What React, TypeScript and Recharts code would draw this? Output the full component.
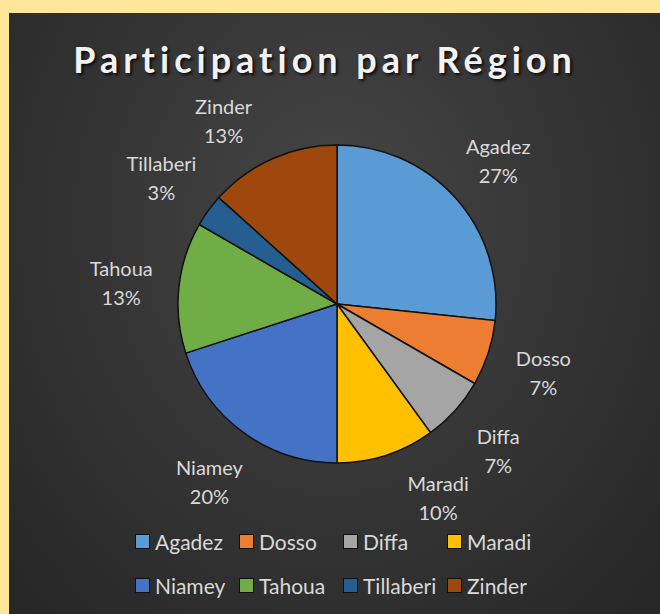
import React from "react";
import { PieChart, Pie, Cell, Legend } from "recharts";

const regions = ["Agadez", "Dosso", "Diffa", "Maradi", "Niamey", "Tahoua", "Tillaberi", "Zinder"];
const participants = [16, 4, 4, 6, 12, 8, 2, 8];
const colors = ["#5B9BD5", "#ED7D31", "#A5A5A5", "#FFC000", "#4472C4", "#70AD47", "#255E91", "#9E480E"];
const title = "Participation par Région";

const data = regions.map((name, i) => ({ name, value: participants[i] }));

const FONT = "Lato, 'Open Sans', sans-serif";
const RAD = Math.PI / 180;

const LABEL_R = 217;
const MAX_DOWN = 192;
const MAX_UP = 185;

const renderLabel = (props: any) => {
  const { cx, cy, midAngle, percent, name } = props;
  let dx = LABEL_R * Math.cos(-midAngle * RAD);
  let dy = LABEL_R * Math.sin(-midAngle * RAD);
  // keep labels clear of the legend below and the title above, staying on the label circle
  if (dy > MAX_DOWN || dy < -MAX_UP) {
    const lim = dy > 0 ? MAX_DOWN : -MAX_UP;
    dy = lim;
    dx = Math.sign(dx) * Math.sqrt(LABEL_R * LABEL_R - lim * lim);
  }
  const x = cx + dx;
  const y = cy + dy;
  return (
    <text x={x} y={y} textAnchor="middle" fill="#D9D9D9" fontFamily={FONT} fontSize={20}>
      <tspan x={x} dy={-5}>{name}</tspan>
      <tspan x={x} dy={29}>{`${Math.round(percent * 100)}%`}</tspan>
    </text>
  );
};

const renderLegend = () => (
  <div style={{ display: "grid", gridTemplateColumns: "104px 104px 104px 104px", rowGap: 20 }}>
    {regions.map((name, i) => (
      <div key={name} style={{ display: "flex", alignItems: "center", height: 24, whiteSpace: "nowrap" }}>
        <span
          style={{
            display: "inline-block",
            width: 13,
            height: 13,
            background: colors[i],
            border: "1.5px solid #111",
            marginRight: 5,
            flexShrink: 0,
          }}
        />
        <span style={{ color: "#D9D9D9", fontFamily: FONT, fontSize: 21 }}>{name}</span>
      </div>
    ))}
  </div>
);

export default function App() {
  return (
    <div style={{ position: "absolute", left: 0, top: 0, width: 660, height: 614, background: "#FFE699" }}>
      <div
        style={{
          position: "absolute",
          left: 9,
          top: 13,
          width: 651,
          height: 601,
          background: "radial-gradient(ellipse at 50% 35%, #474747 0%, #333333 55%, #262626 100%)",
          overflow: "hidden",
        }}
      >
        <div
          style={{
            position: "absolute",
            left: 0,
            top: 24,
            width: 632,
            textAlign: "center",
            color: "#F2F2F2",
            fontFamily: FONT,
            fontWeight: 700,
            fontSize: 36,
            letterSpacing: 5,
            textShadow: "2px 2px 3px rgba(0,0,0,0.8)",
          }}
        >
          {title}
        </div>
        <PieChart width={651} height={601} style={{ position: "absolute", left: 0, top: 0 }}>
          <Pie
            data={data}
            dataKey="value"
            nameKey="name"
            cx={323}
            cy={286}
            outerRadius={159}
            startAngle={90}
            endAngle={-270}
            stroke="#111"
            strokeWidth={1.5}
            label={renderLabel}
            labelLine={false}
            isAnimationActive={false}
          >
            {data.map((d, i) => (
              <Cell key={d.name} fill={colors[i]} />
            ))}
          </Pie>
          <Legend
            content={renderLegend}
            wrapperStyle={{ position: "absolute", left: 126, top: 516, width: 430, bottom: "auto" }}
          />
        </PieChart>
      </div>
    </div>
  );
}
